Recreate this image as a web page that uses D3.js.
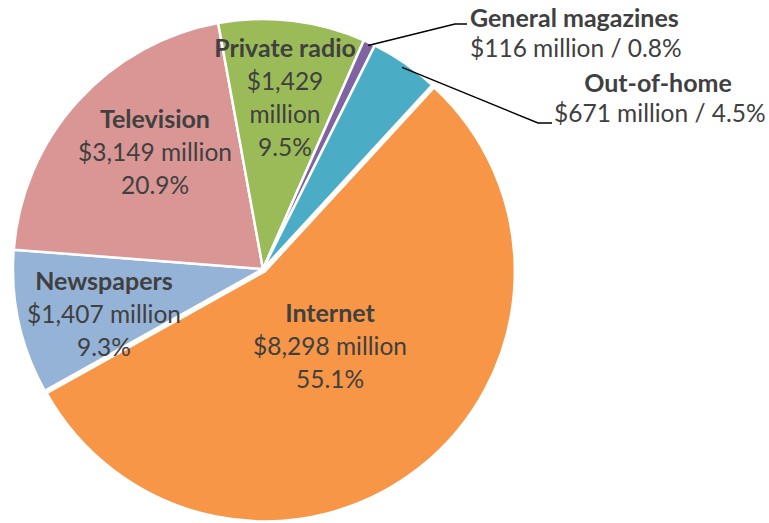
<!DOCTYPE html>
<html>
<head>
<meta charset="utf-8">
<script src="https://cdn.jsdelivr.net/npm/d3@7"></script>
<style>
  html, body { margin: 0; padding: 0; background: #fff; }
  svg { display: block; }
  text { font-family: Lato, "Open Sans", sans-serif; fill: #404040; }
</style>
</head>
<body>
<svg id="chart" width="769" height="523"></svg>
<script>
// Advertising spend by medium, $ million
const categories = ["Internet", "Newspapers", "Television", "Private radio", "General magazines", "Out-of-home"];
const spend = [8298, 1407, 3149, 1429, 116, 671];
const colors = ["#F79646", "#95B3D7", "#D99694", "#9BBB59", "#8064A2", "#4BACC6"];

// Label placement: centre of the first text line, how the value is split over lines
const labelLayout = {
  "Internet":          { x: 330, y: 312, anchor: "middle", style: "stacked" },
  "Newspapers":        { x: 104, y: 280, anchor: "middle", style: "stacked" },
  "Television":        { x: 155, y: 118, anchor: "middle", style: "stacked" },
  "Private radio":     { x: 285, y: 47,  anchor: "middle", style: "split" },
  "General magazines": { x: 470, y: 17,  anchor: "start",  style: "inline", leader: [455, 24, 467, 24] },
  "Out-of-home":       { x: 658, y: 82,  anchor: "middle", style: "inline", valueX: 554, leader: [538, 123, 552, 123] }
};

const cx = 263, cy = 269, radius = 250;
const lineGap = 33;
const nameSize = 25, valueSize = 24.5;

const svg = d3.select("#chart");
const g = svg.append("g").attr("transform", `translate(${cx},${cy})`);

const total = d3.sum(spend);
const data = categories.map((c, i) => ({ name: c, value: spend[i], color: colors[i] }));

const startDeg = 42.6;
const pie = d3.pie()
  .sort(null)
  .value(d => d.value)
  .startAngle(startDeg * Math.PI / 180)
  .endAngle((startDeg + 360) * Math.PI / 180);

const arc = d3.arc().innerRadius(0).outerRadius(radius);
const arcs = pie(data);

// Internet slice is pulled slightly out of the pie
const explode = d => d.data.name === "Internet" ? 3 : 0;

g.selectAll("path.slice")
  .data(arcs)
  .join("path")
  .attr("class", "slice")
  .attr("d", arc)
  .attr("fill", d => d.data.color)
  .attr("stroke", "#fff")
  .attr("stroke-width", 2.5)
  .attr("stroke-linejoin", "round")
  .attr("transform", d => {
    const a = (d.startAngle + d.endAngle) / 2;
    const e = explode(d);
    return `translate(${e * Math.sin(a)},${-e * Math.cos(a)})`;
  });

const fmtMoney = v => "$" + d3.format(",")(v) + " million";
const fmtPct = v => d3.format(".1%")(v / total);

// Leader lines for the thin slices
arcs.forEach(d => {
  const lay = labelLayout[d.data.name];
  if (!lay.leader) return;
  const a = (d.startAngle + d.endAngle) / 2;
  const r = d.data.name === "General magazines" ? radius - 3 : radius - 5;
  const sx = cx + r * Math.sin(a), sy = cy - r * Math.cos(a);
  const [mx, my, ex, ey] = lay.leader;
  svg.append("polyline")
    .attr("points", `${sx},${sy} ${mx},${my} ${ex},${ey}`)
    .attr("fill", "none")
    .attr("stroke", "#000")
    .attr("stroke-width", 1.4);
});

// Data labels
arcs.forEach(d => {
  const lay = labelLayout[d.data.name];
  const v = d.data.value;
  let lines;
  if (lay.style === "stacked") lines = [fmtMoney(v), fmtPct(v)];
  else if (lay.style === "split") lines = ["$" + d3.format(",")(v), "million", fmtPct(v)];
  else lines = [fmtMoney(v) + " / " + fmtPct(v)];

  const t = svg.append("g");
  t.append("text")
    .attr("x", lay.x).attr("y", lay.y)
    .attr("text-anchor", lay.anchor)
    .attr("dominant-baseline", "central")
    .attr("font-size", nameSize)
    .attr("font-weight", "bold")
    .text(d.data.name);
  lines.forEach((ln, i) => {
    const x = lay.valueX !== undefined ? lay.valueX : lay.x;
    const anchor = lay.valueX !== undefined ? "start" : lay.anchor;
    t.append("text")
      .attr("x", x).attr("y", lay.y + (i + 1) * lineGap - (lay.style === "inline" ? 3 : 0))
      .attr("text-anchor", anchor)
      .attr("dominant-baseline", "central")
      .attr("font-size", valueSize)
      .text(ln);
  });
});
</script>
</body>
</html>
